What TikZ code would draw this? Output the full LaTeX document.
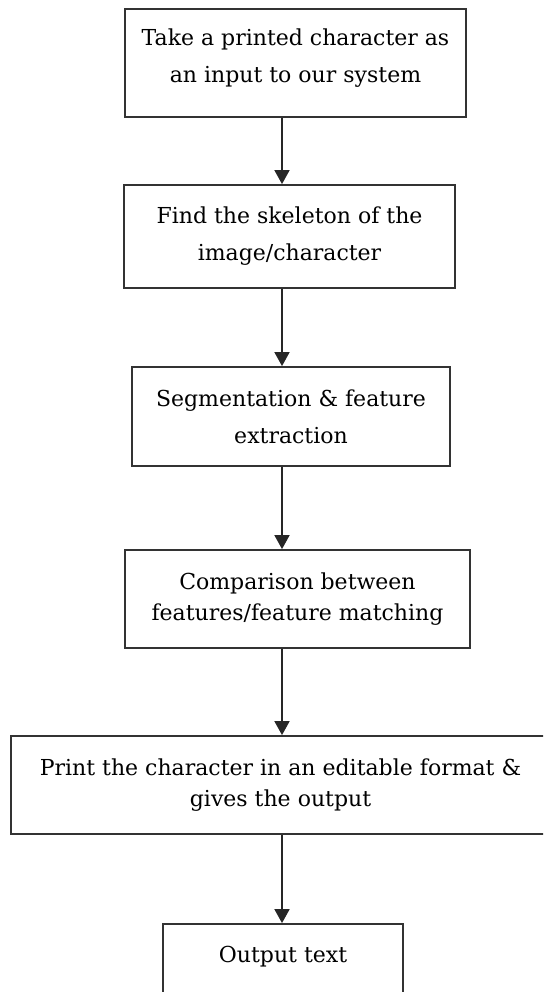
\documentclass[tikz,border=0pt]{standalone}
\usepackage{fontspec}
\setmainfont{DejaVu Serif}
\usetikzlibrary{arrows.meta}

\begin{document}
\begin{tikzpicture}[
    x=1pt, y=-1pt,
    stage/.style={draw=black!80, line width=1.8pt, fill=white, align=center,
                  inner sep=0pt, text=black, font=\fontsize{22}{37}\selectfont},
    tight/.style={stage, font=\fontsize{22}{31}\selectfont},
    flow/.style={-{Triangle[width=15pt,length=14pt]}, line width=1.8pt, draw=black!85}
]
\clip (0,0) rectangle (543,992);
\coordinate (spine) at (282,0);

\node[stage, minimum width=341pt, minimum height=108pt, text depth=15pt] (input) at (295.5,63)
    {Take a printed character as\\an input to our system};
\node[stage, minimum width=331pt, minimum height=103pt] (skel) at (289.5,236.5)
    {Find the skeleton of the\\image/character};
\node[stage, minimum width=318pt, minimum height=99pt] (segm) at (291,416.5)
    {Segmentation \& feature\\extraction};
\node[tight, minimum width=345pt, minimum height=98pt] (compare) at (297.5,599)
    {Comparison between\\features/feature matching};
\node[tight, minimum width=539pt, minimum height=98pt] (printout) at (280.5,785)
    {Print the character in an editable format \&\\gives the output};
\node[stage, minimum width=240pt, minimum height=100pt, text depth=39pt] (outtext) at (283,974)
    {Output text};

\draw[flow] (input.south -| spine) -- (skel.north -| spine);
\draw[flow] (skel.south -| spine) -- (segm.north -| spine);
\draw[flow] (segm.south -| spine) -- (compare.north -| spine);
\draw[flow] (compare.south -| spine) -- (printout.north -| spine);
\draw[flow] (printout.south -| spine) -- (outtext.north -| spine);
\end{tikzpicture}
\end{document}
